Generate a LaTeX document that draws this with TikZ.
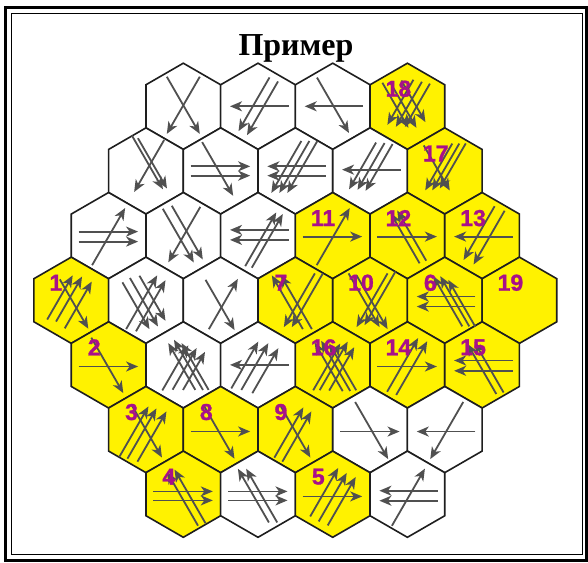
\documentclass[tikz,border=0pt]{standalone}
\usepackage{fontspec}
\newfontfamily\titlefont{Liberation Serif}
\newfontfamily\labfont{Liberation Sans}[BoldFeatures={FakeBold=1.2}]
\usetikzlibrary{shapes.geometric,arrows.meta}
\definecolor{hexyellow}{HTML}{FFF200}
\definecolor{arrgray}{HTML}{505050}
\definecolor{hexline}{HTML}{1E1E1E}
\definecolor{labmag}{HTML}{A8108A}
\newcommand\aSE[3]{\draw[arr] ({#1-0.5*#3},{#2-0.866*#3}) -- ({#1+0.5*#3},{#2+0.866*#3});}
\newcommand\aNW[3]{\draw[arr] ({#1+0.5*#3},{#2+0.866*#3}) -- ({#1-0.5*#3},{#2-0.866*#3});}
\newcommand\aSW[3]{\draw[arr] ({#1+0.5*#3},{#2-0.866*#3}) -- ({#1-0.5*#3},{#2+0.866*#3});}
\newcommand\aNE[3]{\draw[arr] ({#1-0.5*#3},{#2+0.866*#3}) -- ({#1+0.5*#3},{#2-0.866*#3});}
\newcommand\aE[1]{\draw[arr] (-30,#1) -- (29.5,#1);}
\newcommand\aW[1]{\draw[arr] (30.5,#1) -- (-28,#1);}
\newcommand\inhex[2]{\begin{scope}[shift={(#1.center)}]#2\end{scope}}
\begin{document}
\begin{tikzpicture}[x=1pt,y=-1pt,
  hexbase/.style={regular polygon, regular polygon sides=6, shape border rotate=30,
    minimum size=86.2pt, inner sep=0pt, outer sep=0pt, draw=hexline, line width=1.6pt},
  hexw/.style={hexbase, fill=white},
  hexy/.style={hexbase, fill=hexyellow},
  arr/.style={draw=arrgray, line width=1.8pt, -{Stealth[length=12pt,width=10pt,inset=3.5pt]}},
  lab/.style={anchor=west, text=labmag, inner sep=0pt,
    font=\labfont\bfseries\fontsize{23}{23}\selectfont}]
\useasboundingbox (0,0) rectangle (588,562);
\fill[white] (0,0) rectangle (588,562);
% frame
\draw[line width=3pt] (5.5,7.5) rectangle (586.5,560);
\draw[line width=1.3pt] (11.5,13.5) rectangle (582.5,554.5);
% title
\node[anchor=base, font=\titlefont\bfseries\fontsize{32}{32}\selectfont, inner sep=0pt] (title) at (296,55) {Пример};
% hexes row 0
\node[hexw] (h00) at (183.3,106.3) {};
\node[hexw] (h01) at (258.0,106.3) {};
\node[hexw] (h02) at (332.7,106.3) {};
\node[hexy] (h03) at (407.4,106.3) {};
% row 1
\node[hexw] (h10) at (145.95,170.95) {};
\node[hexw] (h11) at (220.65,170.95) {};
\node[hexw] (h12) at (295.35,170.95) {};
\node[hexw] (h13) at (370.05,170.95) {};
\node[hexy] (h14) at (444.75,170.95) {};
% row 2
\node[hexw] (h20) at (108.6,235.6) {};
\node[hexw] (h21) at (183.3,235.6) {};
\node[hexw] (h22) at (258.0,235.6) {};
\node[hexy] (h23) at (332.7,235.6) {};
\node[hexy] (h24) at (407.4,235.6) {};
\node[hexy] (h25) at (482.1,235.6) {};
% row 3
\node[hexy] (h30) at (71.25,300.25) {};
\node[hexw] (h31) at (145.95,300.25) {};
\node[hexw] (h32) at (220.65,300.25) {};
\node[hexy] (h33) at (295.35,300.25) {};
\node[hexy] (h34) at (370.05,300.25) {};
\node[hexy] (h35) at (444.75,300.25) {};
\node[hexy] (h36) at (519.45,300.25) {};
% row 4
\node[hexy] (h40) at (108.6,364.9) {};
\node[hexw] (h41) at (183.3,364.9) {};
\node[hexw] (h42) at (258.0,364.9) {};
\node[hexy] (h43) at (332.7,364.9) {};
\node[hexy] (h44) at (407.4,364.9) {};
\node[hexy] (h45) at (482.1,364.9) {};
% row 5
\node[hexy] (h50) at (145.95,429.55) {};
\node[hexy] (h51) at (220.65,429.55) {};
\node[hexy] (h52) at (295.35,429.55) {};
\node[hexw] (h53) at (370.05,429.55) {};
\node[hexw] (h54) at (444.75,429.55) {};
% row 6
\node[hexy] (h60) at (183.3,494.2) {};
\node[hexw] (h61) at (258.0,494.2) {};
\node[hexy] (h62) at (332.7,494.2) {};
\node[hexw] (h63) at (407.4,494.2) {};
% arrows
\inhex{h00}{\aSE{0}{-1}{33}\aSW{0}{-1}{33}}
\inhex{h01}{\aW{0}\aSW{-4}{-2}{31}\aSW{4.5}{2}{31}}
\inhex{h02}{\aW{0}\aSE{0.3}{-1}{32}}
\inhex{h03}{\aSW{-7}{-4}{26}\aSW{1.5}{-2}{26}\aSW{10}{-1}{25}\aSE{-12}{-1}{26}\aSE{-4}{-1}{26}\aSE{6}{-5}{24}}
\inhex{h10}{\aSE{1.5}{-8.5}{31}\aSE{6.5}{-7.6}{29}\aSW{3.2}{-5}{30}}
\inhex{h11}{\aE{-4.6}\aE{4.7}\aSE{-3}{-2}{31}}
\inhex{h12}{\aW{-4.6}\aW{4.7}\aSW{-9}{-4}{30}\aSW{-1}{-4}{30}\aSW{7}{-4}{30}}
\inhex{h13}{\aW{-1.3}\aSW{-7.5}{-5}{27}\aSW{1}{-4.5}{27}\aSW{9}{-3.5}{27}}
\inhex{h14}{\aSW{-6}{-4}{27}\aSW{1}{-4}{27}\aSW{8}{-5}{26}\aSE{-8}{-3}{26}}
\inhex{h20}{\aE{-4}\aE{6}\aNE{0}{1}{33}}
\inhex{h21}{\aSE{-5}{0}{31}\aSE{4}{-3}{31}\aSW{1}{-1}{32}}
\inhex{h22}{\aW{-5.7}\aW{4.3}\aNE{2.7}{3.7}{31}\aNE{9.3}{5.3}{31}}
\inhex{h23}{\aE{1}\aNE{0.5}{1}{33}}
\inhex{h24}{\aE{1}\aNW{-2.3}{2.6}{29}\aNW{4.3}{0}{29}}
\inhex{h25}{\aW{1}\aSW{-3}{-2.5}{31}\aSW{7}{2}{31}}
\inhex{h30}{\aNE{-11.3}{-2.8}{25.5}\aNE{-2.2}{-1.2}{26}\aNE{7}{4.7}{27}\aSE{2.8}{3.8}{28.5}}
\inhex{h31}{\aSE{-10}{5.5}{27}\aSE{-2}{2}{28}\aSE{6.5}{-2}{26}\aNE{-4.3}{2}{31}\aNE{4.8}{5.5}{29.5}}
\inhex{h32}{\aSE{-0.6}{4.7}{29}\aNE{2.7}{3.8}{29}}
\inhex{h33}{\aNW{-8}{2}{31}\aNW{1}{2}{31}\aSW{4}{0}{31}\aSW{12}{0}{31}}
\inhex{h34}{\aSW{2}{0}{31}\aSW{10}{-2}{31}\aSE{-6}{0}{31}\aSE{2}{2}{31}}
\inhex{h35}{\aW{-3.7}\aW{6.3}\aNW{3}{1}{29}\aNW{10}{1}{29}\aNW{17}{3}{27}}
\inhex{h40}{\aE{1.6}\aSE{-1.3}{0.5}{32}}
\inhex{h41}{\aNW{-1.5}{1.6}{27}\aNW{5.2}{0}{29}\aNW{11.8}{1.6}{27}\aNE{-8}{3}{26}\aNE{1.3}{4}{24}\aNE{10.7}{6}{22}}
\inhex{h42}{\aW{0}\aNE{-13.2}{0.1}{27}\aNE{-3.2}{1.7}{27}\aNE{7.3}{5.8}{26}}
\inhex{h43}{\aNW{-4}{2}{28}\aNW{3}{1}{29}\aNW{10}{2}{27}\aNE{-6}{2}{27}\aNE{1}{1}{28}\aNE{9}{4}{25}}
\inhex{h44}{\aE{1.6}\aNE{-4.8}{0}{31}\aNE{4.3}{3.2}{31}}
\inhex{h45}{\aW{-4.4}\aW{5.9}\aNW{-0.3}{4}{29}\aNW{7}{2.5}{29}}
\inhex{h50}{\aNE{-12}{2}{29}\aNE{-4}{4}{29}\aNE{6}{7}{29}\aSE{1}{2}{30}}
\inhex{h51}{\aE{1.9}\aSE{-1.7}{2.3}{31}}
\inhex{h52}{\aNE{-6.5}{3}{29}\aNE{1.5}{7}{29}\aSE{0}{2}{30}}
\inhex{h53}{\aE{2}\aSE{1.6}{1}{33}}
\inhex{h54}{\aW{2}\aSW{2}{1}{33}}
\inhex{h60}{\aE{-2.8}\aE{6.2}\aNW{-0.8}{4.6}{31}\aNW{6.7}{2.2}{31}}
\inhex{h61}{\aE{-2.8}\aE{6.2}\aNW{-4.6}{1.4}{31}\aNW{3.7}{1.4}{31}}
\inhex{h62}{\aE{2.2}\aNE{-8.5}{-2}{28}\aNE{0}{3}{28}\aNE{9}{7}{28}}
\inhex{h63}{\aW{-3.5}\aW{6.5}\aNE{1}{3}{33}}
% labels
\node[lab] (l1)  at ([shift={(-22,-17.5)}]h30.center) {1};
\node[lab] (l2)  at ([shift={(-21,-17.5)}]h40.center) {2};
\node[lab] (l3)  at ([shift={(-21,-17.5)}]h50.center) {3};
\node[lab] (l4)  at ([shift={(-21,-17.5)}]h60.center) {4};
\node[lab] (l5)  at ([shift={(-21,-17.5)}]h62.center) {5};
\node[lab] (l6)  at ([shift={(-21,-17.5)}]h35.center) {6};
\node[lab] (l7)  at ([shift={(-21,-17.5)}]h33.center) {7};
\node[lab] (l8)  at ([shift={(-21,-17.5)}]h51.center) {8};
\node[lab] (l9)  at ([shift={(-21,-17.5)}]h52.center) {9};
\node[lab] (l10) at ([shift={(-22,-17.5)}]h34.center) {10};
\node[lab] (l11) at ([shift={(-22,-17.5)}]h23.center) {11};
\node[lab] (l12) at ([shift={(-22,-17.5)}]h24.center) {12};
\node[lab] (l13) at ([shift={(-22,-17.5)}]h25.center) {13};
\node[lab] (l14) at ([shift={(-22,-17.5)}]h44.center) {14};
\node[lab] (l15) at ([shift={(-22,-17.5)}]h45.center) {15};
\node[lab] (l16) at ([shift={(-22,-17.5)}]h43.center) {16};
\node[lab] (l17) at ([shift={(-22,-17.5)}]h14.center) {17};
\node[lab] (l18) at ([shift={(-22,-17.5)}]h03.center) {18};
\node[lab] (l19) at ([shift={(-22,-17.5)}]h36.center) {19};
\end{tikzpicture}
\end{document}
